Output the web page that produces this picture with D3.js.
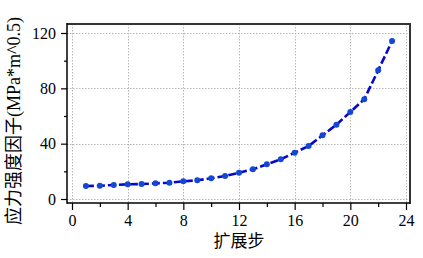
<!DOCTYPE html>
<html>
<head>
<meta charset="utf-8">
<script src="https://cdn.jsdelivr.net/npm/d3@7"></script>
<style>
html,body{margin:0;padding:0;background:#fff;}
svg{display:block;}
</style>
</head>
<body>
<svg id="chart" width="423" height="258"></svg>
<script>
const steps = [1,2,3,4,5,6,7,8,9,10,11,12,13,14,15,16,17,18,19,20,21,22,23];
const sif = [9.4,9.6,10.1,10.6,10.8,11.3,11.8,12.8,13.5,15.0,16.6,19.0,21.5,25.1,28.7,33.5,38.3,46.0,53.7,62.9,72.1,93.0,114.2];
const xMajorTicks = [0,4,8,12,16,20,24];
const xMinorTicks = [2,6,10,14,18,22];
const yMajorTicks = [0,40,80,120];
const yMinorTicks = [20,60,100];
const xTitle = "扩展步";
const yTitle = "应力强度因子(MPa*m^0.5)";

const serifFont = "'Liberation Serif', 'Times New Roman', serif";
const titleFont = "'Liberation Serif', 'Noto Sans CJK SC', serif";

const svg = d3.select("#chart");
const frame = {left:67, right:410, top:24, bottom:203};
const x = d3.scaleLinear().domain([0,24]).range([72,406]);
const y = d3.scaleLinear().domain([0,120]).range([199,33]);

const grid = svg.append("g").attr("stroke","#b8b8b8").attr("stroke-width",1).attr("stroke-dasharray","1.5,1.5");
grid.selectAll("line.v").data(xMajorTicks).join("line")
  .attr("x1",d=>Math.round(x(d))+0.5).attr("x2",d=>Math.round(x(d))+0.5)
  .attr("y1",frame.top).attr("y2",frame.bottom);
grid.selectAll("line.h").data(yMajorTicks).join("line")
  .attr("y1",d=>Math.round(y(d))+0.5).attr("y2",d=>Math.round(y(d))+0.5)
  .attr("x1",frame.left).attr("x2",frame.right);

svg.append("line").attr("x1",frame.left).attr("x2",frame.right).attr("y1",frame.top).attr("y2",frame.top).attr("stroke","#333").attr("stroke-width",2);
svg.append("line").attr("x1",frame.right).attr("x2",frame.right).attr("y1",frame.top-1).attr("y2",frame.bottom+1).attr("stroke","#333").attr("stroke-width",2);
svg.append("line").attr("x1",frame.left).attr("x2",frame.left).attr("y1",frame.top-1).attr("y2",frame.bottom+0.75).attr("stroke","#000").attr("stroke-width",1.5);
svg.append("line").attr("x1",frame.left).attr("x2",frame.right).attr("y1",frame.bottom).attr("y2",frame.bottom).attr("stroke","#000").attr("stroke-width",1.5);

const xAxis = svg.append("g").attr("transform",`translate(0,${frame.bottom})`)
  .call(d3.axisBottom(x).tickValues(xMajorTicks).tickSize(7).tickPadding(5).tickFormat(d3.format("d")));
const xAxisMinor = svg.append("g").attr("transform",`translate(0,${frame.bottom})`)
  .call(d3.axisBottom(x).tickValues(xMinorTicks).tickSize(4).tickFormat(""));
const yAxis = svg.append("g").attr("transform",`translate(${frame.left},0)`)
  .call(d3.axisLeft(y).tickValues(yMajorTicks).tickSize(6).tickPadding(5).tickFormat(d3.format("d")));
const yAxisMinor = svg.append("g").attr("transform",`translate(${frame.left},0)`)
  .call(d3.axisLeft(y).tickValues(yMinorTicks).tickSize(3).tickFormat(""));
[xAxis,xAxisMinor,yAxis,yAxisMinor].forEach(g=>{
  g.attr("font-family",serifFont).attr("font-size",16);
  g.select(".domain").remove();
  g.selectAll(".tick line").attr("stroke","#000").attr("stroke-width",1.2);
  g.selectAll(".tick text").attr("fill","#000");
});

const line = d3.line().x((d,i)=>x(steps[i])).y(d=>y(d));
svg.append("path").datum(sif).attr("d",line)
  .attr("fill","none").attr("stroke","#0808c8").attr("stroke-width",2.6)
  .attr("stroke-dasharray","8,3");
svg.append("g").selectAll("circle").data(sif).join("circle")
  .attr("cx",(d,i)=>x(steps[i])).attr("cy",d=>y(d)).attr("r",3)
  .attr("fill","#1448d4");

svg.append("text").attr("x",(x(0)+x(24))/2).attr("y",247)
  .attr("text-anchor","middle").attr("font-family",titleFont).attr("font-size",17).attr("fill","#000")
  .text(xTitle);
svg.append("text").attr("transform",`translate(20,121) rotate(-90)`)
  .attr("text-anchor","middle").attr("font-family",titleFont).attr("font-size",18).attr("fill","#000")
  .text(yTitle);
</script>
</body>
</html>
